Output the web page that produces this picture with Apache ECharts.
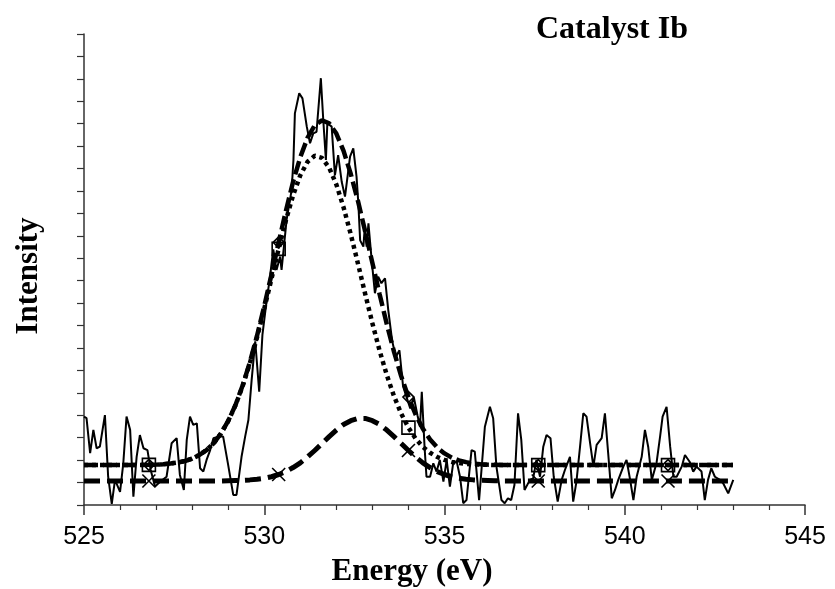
<!DOCTYPE html>
<html>
<head>
<meta charset="utf-8">
<script src="https://cdn.jsdelivr.net/npm/echarts@6/dist/echarts.min.js"></script>
<style>
html,body{margin:0;padding:0;background:#fff;}
#chart{width:835px;height:589px;}
</style>
</head>
<body>
<div id="chart"></div>
<script>
// ---- data (y in tick units, 1 unit = 1 y tick) ----
var titleText = 'Catalyst Ib';
var xAxisTitle = 'Energy (eV)';
var yAxisTitle = 'Intensity';
var xTicks = [525, 530, 535, 540, 545];

var rawEnergy = [525.00,525.07,525.17,525.26,525.35,525.44,525.58,525.67,525.77,525.86,526.00,526.09,526.18,526.28,526.37,526.46,526.55,526.65,526.76,526.85,526.97,527.11,527.29,527.43,527.57,527.66,527.77,527.85,527.94,528.03,528.13,528.22,528.31,528.40,528.50,528.59,528.73,528.86,529.00,529.14,529.23,529.37,529.47,529.56,529.65,529.75,529.86,529.95,530.05,530.16,530.25,530.34,530.44,530.48,530.62,530.76,530.81,530.85,530.97,531.06,531.18,531.27,531.36,531.45,531.57,531.64,531.71,531.75,531.87,531.96,532.05,532.15,532.24,532.38,532.47,532.56,532.61,532.66,532.75,532.79,532.84,532.89,532.98,533.07,533.16,533.25,533.35,533.44,533.55,533.65,533.75,533.85,533.95,534.05,534.15,534.25,534.32,534.37,534.45,534.50,534.60,534.69,534.78,534.87,534.97,535.06,535.15,535.24,535.34,535.43,535.52,535.61,535.75,535.84,535.96,536.12,536.26,536.35,536.44,536.58,536.67,536.76,536.85,536.94,537.04,537.13,537.22,537.37,537.46,537.55,537.65,537.74,537.83,537.94,538.03,538.14,538.25,538.34,538.48,538.57,538.66,538.76,538.85,538.94,539.04,539.13,539.22,539.36,539.45,539.54,539.64,539.73,539.82,539.96,540.05,540.15,540.24,540.33,540.47,540.56,540.65,540.75,540.88,540.98,541.05,541.16,541.26,541.35,541.44,541.58,541.67,541.80,541.90,541.99,542.13,542.22,542.31,542.40,542.50,542.64,542.73,542.87,543.01];
var rawIntensity = [2.94,2.87,1.31,2.35,1.53,1.60,3.01,0.26,-0.95,0.12,-0.41,0.86,2.94,2.35,-0.63,1.15,2.12,1.53,1.45,0.56,-0.18,0.04,0.26,1.75,1.98,0.34,-0.33,1.90,2.94,2.57,2.64,0.64,0.49,1.01,1.45,1.98,2.05,2.05,0.78,-0.55,-0.55,1.15,2.05,2.79,4.57,6.30,4.05,6.60,7.90,9.18,10.40,9.48,10.07,9.48,11.71,13.05,14.38,16.46,17.36,17.13,15.87,15.13,15.57,15.64,18.03,16.09,14.38,16.02,15.87,13.70,14.60,13.40,12.75,14.53,14.90,13.64,12.45,10.80,10.52,11.41,10.52,11.56,9.92,8.44,9.18,8.89,9.11,7.69,6.30,5.60,5.90,4.30,3.80,3.30,3.80,3.00,2.49,4.05,1.50,0.26,0.26,0.86,0.49,1.01,0.04,1.01,-0.18,0.86,0.93,0.26,-0.92,-0.78,1.45,1.38,-0.78,2.49,3.38,2.87,0.71,-0.78,-0.92,-0.70,-0.78,-0.11,3.09,1.90,-0.33,0.12,0.19,1.01,0.26,1.60,2.12,1.98,0.26,-0.85,0.12,0.56,1.15,-0.85,0.04,1.60,3.09,2.94,1.75,0.71,1.68,1.98,3.09,1.31,-0.70,-0.33,0.12,0.71,1.01,0.12,-0.78,0.26,1.15,2.35,1.60,0.12,0.86,2.05,2.94,3.38,1.60,0.26,0.26,0.71,1.23,0.93,0.49,0.71,0.49,-0.78,0.12,0.64,0.26,0.12,-0.03,-0.48,0.12];

var fitEnergy = [525.0,526.8,527.0,527.2,527.4,527.6,527.8,528.0,528.2,528.4,528.6,528.8,529.0,529.2,529.4,529.6,529.8,530.0,530.2,530.4,530.6,530.8,531.0,531.2,531.4,531.6,531.8,532.0,532.2,532.4,532.6,532.8,533.0,533.2,533.4,533.6,533.8,534.0,534.2,534.4,534.6,534.8,535.0,535.2,535.4,535.6,535.8,536.0,536.2,536.4,536.6,536.8,537.6,541.2,543.0];
var fitEnvelope = [0.78,0.79,0.80,0.82,0.85,0.89,0.96,1.07,1.23,1.45,1.76,2.19,2.75,3.45,4.33,5.36,6.55,7.87,9.27,10.71,12.11,13.41,14.51,15.37,15.93,16.15,16.02,15.56,14.79,13.76,12.55,11.20,9.79,8.40,7.06,5.83,4.74,3.81,3.03,2.40,1.92,1.56,1.30,1.11,0.99,0.91,0.85,0.82,0.80,0.79,0.78,0.78,0.78,0.78,0.78];
var fitComp1 = [0.78,0.79,0.80,0.82,0.85,0.89,0.96,1.07,1.23,1.45,1.76,2.19,2.74,3.44,4.30,5.32,6.47,7.75,9.08,10.42,11.69,12.81,13.70,14.30,14.57,14.48,14.04,13.29,12.27,11.07,9.76,8.41,7.10,5.88,4.79,3.85,3.07,2.45,1.96,1.59,1.33,1.14,1.01,0.92,0.87,0.83,0.81,0.80,0.79,0.78,0.78,0.78,0.78,0.78,0.78];
var fitComp2 = [0.07,0.07,0.07,0.07,0.07,0.07,0.07,0.07,0.07,0.07,0.07,0.07,0.08,0.09,0.10,0.12,0.15,0.19,0.26,0.36,0.49,0.67,0.88,1.14,1.43,1.74,2.05,2.34,2.59,2.76,2.86,2.86,2.76,2.59,2.34,2.05,1.74,1.43,1.14,0.88,0.67,0.49,0.36,0.26,0.19,0.15,0.12,0.10,0.09,0.08,0.07,0.07,0.07,0.07,0.07];
var markerEnergies = [526.8, 530.4, 534.0, 537.6, 541.2];

// ---- build ----
function pairs(xs, ys) { return xs.map(function (x, i) { return [x, ys[i]]; }); }
function withMarkers(xs, ys, sym, size) {
  return xs.map(function (x, i) {
    var item = { value: [x, ys[i]] };
    if (markerEnergies.indexOf(x) >= 0) { item.symbol = sym; item.symbolSize = size; }
    return item;
  });
}
var X_PATH = 'path://M0,0L10,10M0,10L10,0';
var hollow = { color: 'rgba(0,0,0,0)', borderColor: '#000', borderWidth: 1.6 };
var serifBold = '"Liberation Serif", "Times New Roman", serif';

var chart = echarts.init(document.getElementById('chart'), null, { renderer: 'canvas' });
chart.setOption({
  animation: false,
  backgroundColor: '#fff',
  grid: { left: 84, right: 30, top: 34, bottom: 84, containLabel: false },
  xAxis: {
    type: 'value', min: xTicks[0], max: xTicks[xTicks.length - 1], interval: 5,
    axisLine: { show: true, onZero: false, lineStyle: { color: '#333', width: 1.5 } },
    axisTick: { show: true, length: 10, lineStyle: { color: '#333', width: 1.5 } },
    minorTick: { show: true, splitNumber: 5, length: 5, lineStyle: { color: '#333', width: 1.2 } },
    splitLine: { show: false },
    axisLabel: { color: '#000', fontFamily: '"Liberation Sans", Arial, sans-serif', fontSize: 25, margin: 20 }
  },
  yAxis: {
    type: 'value', min: -1, max: 20, interval: 1,
    axisLine: { show: true, onZero: false, lineStyle: { color: '#333', width: 1.5 } },
    axisTick: { show: true, length: 7, lineStyle: { color: '#333', width: 1.2 } },
    splitLine: { show: false },
    axisLabel: { show: false }
  },
  graphic: [
    { type: 'text', x: 612, y: 30, style: { text: titleText, font: 'bold 32px ' + serifBold, fill: '#000', align: 'center', verticalAlign: 'middle' } },
    { type: 'text', x: 412, y: 572, style: { text: xAxisTitle, font: 'bold 31px ' + serifBold, fill: '#000', align: 'center', verticalAlign: 'middle' } },
    { type: 'text', x: 29, y: 276, rotation: Math.PI / 2, style: { text: yAxisTitle, font: 'bold 31px ' + serifBold, fill: '#000', align: 'center', verticalAlign: 'middle' } }
  ],
  series: [
    {
      name: 'Data', type: 'line', data: pairs(rawEnergy, rawIntensity), symbol: 'none', clip: true,
      lineStyle: { color: '#000', width: 2 }, z: 2
    },
    {
      name: 'Component 2', type: 'line', data: withMarkers(fitEnergy, fitComp2, X_PATH, 13), symbol: 'none', clip: true,
      lineStyle: { color: '#000', width: 5, type: [16, 7] }, itemStyle: hollow, z: 3
    },
    {
      name: 'Component 1', type: 'line', data: withMarkers(fitEnergy, fitComp1, 'rect', 13), symbol: 'none', clip: true,
      lineStyle: { color: '#000', width: 4.5, type: [4, 4] }, itemStyle: hollow, z: 4
    },
    {
      name: 'Envelope', type: 'line', data: withMarkers(fitEnergy, fitEnvelope, 'diamond', 11), symbol: 'none', clip: true,
      lineStyle: { color: '#000', width: 4.5, type: [14, 5] }, itemStyle: hollow, z: 5
    }
  ]
});
</script>
</body>
</html>
